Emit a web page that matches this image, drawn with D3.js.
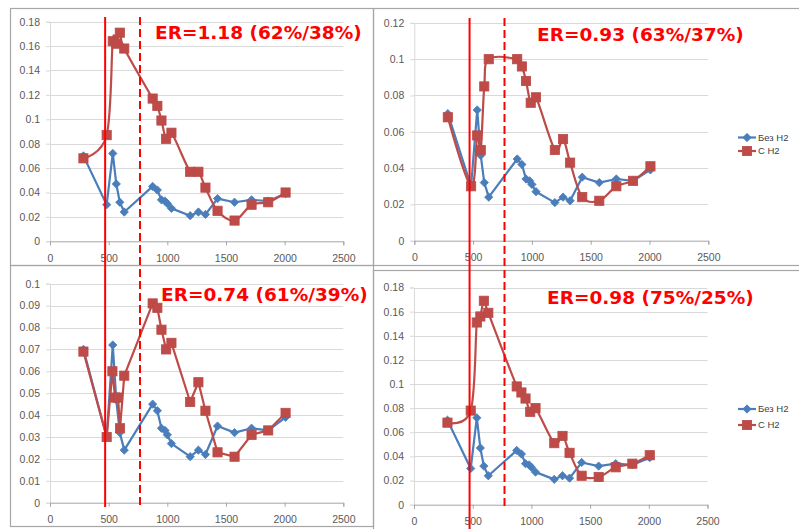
<!DOCTYPE html>
<html><head><meta charset="utf-8">
<script src="https://cdn.jsdelivr.net/npm/d3@7"></script>
<style>
body{margin:0;background:#fff;}
svg{display:block;font-family:"Liberation Sans",Arial,sans-serif;}
</style>
</head><body>
<svg id="c" width="799" height="529"></svg>
<script>
// ---------- data ----------
const xTicks = [0, 500, 1000, 1500, 2000, 2500];
const seriesNames = ["Без H2", "С H2"];
const erTitles = ["ER=1.18 (62%/38%)", "ER=0.93 (63%/37%)", "ER=0.74 (61%/39%)", "ER=0.98 (75%/25%)"];
const yMaxes = [0.18, 0.12, 0.1, 0.18];
const ySteps = [0.02, 0.02, 0.01, 0.02];

const tempBlue = [285, 483, 535, 565, 595, 633, 875, 915, 950, 980, 1000, 1035, 1195, 1265, 1325, 1428, 1573, 1718, 1860, 2008];
const bezH2    = [0.070, 0.030, 0.072, 0.047, 0.032, 0.024, 0.045, 0.042, 0.034, 0.033, 0.031, 0.027, 0.021, 0.024, 0.022, 0.035, 0.032, 0.034, 0.033, 0.039];

const tempRed  = [285, 483, 535, 565, 595, 633, 875, 915, 950, 990, 1035, 1195, 1265, 1325, 1428, 1573, 1718, 1860, 2008];
const sH2_1    = [0.068, 0.087, 0.164, 0.162, 0.171, 0.158, 0.117, 0.111, 0.099, 0.084, 0.089, 0.057, 0.057, 0.044, 0.025, 0.017, 0.030, 0.032, 0.040];
const sH2_2    = [0.068, 0.030, 0.058, 0.050, 0.085, 0.100, 0.100, 0.096, 0.088, 0.076, 0.079, 0.050, 0.056, 0.043, 0.024, 0.022, 0.030, 0.033, 0.041];
const tempRed3 = [285, 483, 532, 555, 580, 597, 633, 875, 915, 950, 990, 1035, 1195, 1265, 1325, 1428, 1573, 1718, 1860, 2008];
const sH2_3    = [0.069, 0.030, 0.060, 0.048, 0.048, 0.034, 0.058, 0.091, 0.089, 0.079, 0.070, 0.073, 0.046, 0.055, 0.042, 0.023, 0.021, 0.031, 0.033, 0.041];
const sH2_4    = [0.068, 0.078, 0.151, 0.156, 0.169, 0.159, 0.098, 0.093, 0.088, 0.077, 0.080, 0.051, 0.057, 0.043, 0.024, 0.023, 0.031, 0.034, 0.041];

const boundaryTemps = [470, 767]; // solid / dashed red markers

// ---------- layout ----------
const BLUE = "#4a7ebb", RED = "#be4b48", TXT = "#595959";
const panels = [
  {box:[10,8,363,257],  xr:[50,343.3],   yr:[241.3,21.7],  title:[155,39],  xl:9, legend:null,           smooth:true,  rx:tempRed,  ry:sH2_1},
  {box:[373,8,430,257], xr:[414.3,708.3],yr:[240.7,22.9],  title:[537,41],  xl:9, legend:[738,137.5,151], smooth:true,  rx:tempRed,  ry:sH2_2},
  {box:[10,265,363,261],xr:[50,343.3],   yr:[502.7,283.7], title:[161,301], xl:8.5, legend:null,         smooth:false, rx:tempRed3, ry:sH2_3},
  {box:[373,270,430,262],xr:[414,707.5], yr:[504.7,287.5], title:[547,304], xl:8.5, legend:[738,409,425], smooth:true,  rx:tempRed,  ry:sH2_4}
];

const svg = d3.select("#c");
const fmt = d3.format("~g");

function diamond(g, cx, cy){
  g.append("path").attr("d", d3.symbol(d3.symbolDiamond2, 44)())
   .attr("transform", `translate(${cx},${cy})`)
   .attr("fill", BLUE).attr("stroke", BLUE).attr("stroke-width", 0.8);
}
function square(g, cx, cy){
  g.append("rect").attr("x", cx-4.6).attr("y", cy-4.6).attr("width", 9.2).attr("height", 9.2)
   .attr("fill", RED).attr("stroke", "#b94a47").attr("stroke-width", 0.8);
}

panels.forEach((p, i) => {
  const g = svg.append("g");
  g.append("rect").attr("x", p.box[0]+0.5).attr("y", p.box[1]+0.5)
    .attr("width", p.box[2]).attr("height", p.box[3])
    .attr("fill", "none").attr("stroke", "#a6a6a6").attr("stroke-width", 1.2);

  const x = d3.scaleLinear().domain([0, 2500]).range(p.xr);
  const y = d3.scaleLinear().domain([0, yMaxes[i]]).range(p.yr);
  const yt = d3.range(0, yMaxes[i] + 1e-9, ySteps[i]).map(v => +v.toFixed(3));

  // gridlines
  g.selectAll(".grid").data(yt.slice(1)).join("line")
    .attr("x1", p.xr[0]).attr("x2", p.xr[1])
    .attr("y1", d => Math.round(y(d))+0.5).attr("y2", d => Math.round(y(d))+0.5)
    .attr("stroke", "#d9d9d9").attr("stroke-width", 1);

  // y axis
  const ya = g.append("g").attr("transform", `translate(${p.xr[0]},0)`)
    .call(d3.axisLeft(y).tickValues(yt).tickFormat(fmt).tickSize(4).tickPadding(6));
  ya.select(".domain").attr("stroke", "#d9d9d9");
  ya.selectAll(".tick line").attr("stroke", "#d9d9d9");
  ya.selectAll("text").attr("fill", TXT).style("font-size", "10.5px");

  // x axis
  const xa = g.append("g").attr("transform", `translate(0,${y(0)})`)
    .call(d3.axisBottom(x).tickValues(xTicks).tickFormat(d3.format("d")).tickSize(4).tickPadding(p.xl));
  xa.select(".domain").attr("stroke", "#a6a6a6");
  xa.selectAll(".tick line").attr("stroke", "#a6a6a6");
  xa.selectAll("text").attr("fill", TXT).style("font-size", "10.5px");

  // blue series (straight)
  const blue = tempBlue.map((t, k) => [t, bezH2[k]]);
  g.append("path").datum(blue)
    .attr("d", d3.line().x(d => x(d[0])).y(d => y(d[1])))
    .attr("fill", "none").attr("stroke", BLUE).attr("stroke-width", 2.2).attr("stroke-linejoin", "round");
  blue.forEach(d => diamond(g, x(d[0]), y(d[1])));

  // red series
  const red = p.rx.map((t, k) => [t, p.ry[k]]);
  g.append("path").datum(red)
    .attr("d", d3.line().curve(p.smooth ? d3.curveCardinal.tension(0) : d3.curveLinear).x(d => x(d[0])).y(d => y(d[1])))
    .attr("fill", "none").attr("stroke", RED).attr("stroke-width", 2.2).attr("stroke-linejoin", "round");
  red.forEach(d => square(g, x(d[0]), y(d[1])));

  // legend
  if (p.legend) {
    const [lx, ly1, ly2] = p.legend;
    g.append("line").attr("x1", lx).attr("x2", lx+18).attr("y1", ly1).attr("y2", ly1).attr("stroke", BLUE).attr("stroke-width", 2.2);
    diamond(g, lx+9, ly1);
    g.append("line").attr("x1", lx).attr("x2", lx+18).attr("y1", ly2).attr("y2", ly2).attr("stroke", RED).attr("stroke-width", 2.2);
    square(g, lx+9, ly2);
    g.append("text").attr("x", lx+20).attr("y", ly1).attr("dy", "0.35em").attr("fill", "#404040")
      .style("font-size", "9.5px").text(seriesNames[0]);
    g.append("text").attr("x", lx+20).attr("y", ly2).attr("dy", "0.35em").attr("fill", "#404040")
      .style("font-size", "9.5px").text(seriesNames[1]);
  }

  // ER title
  g.append("text").attr("x", p.title[0]).attr("y", p.title[1])
    .attr("fill", "#ff0000").style("font-family", "'DejaVu Sans', sans-serif")
    .style("font-weight", "bold").style("font-size", "18.5px").text(erTitles[i]);
});

// red boundary lines drawn over the composite
const xL = d3.scaleLinear().domain([0, 2500]).range(panels[0].xr);
const xR = d3.scaleLinear().domain([0, 2500]).range(panels[1].xr);
const vlines = [
  {x: xL(boundaryTemps[0]), y1: 17, y2: 507, dash: null},
  {x: xL(boundaryTemps[1]), y1: 17, y2: 507, dash: "8,4"},
  {x: xR(boundaryTemps[0]), y1: 18, y2: 529, dash: null},
  {x: xR(boundaryTemps[1]), y1: 18, y2: 506, dash: "8,4"}
];
svg.selectAll(".vl").data(vlines).join("line")
  .attr("x1", d => d.x).attr("x2", d => d.x).attr("y1", d => d.y1).attr("y2", d => d.y2)
  .attr("stroke", "#ff0000").attr("stroke-width", 2)
  .attr("stroke-dasharray", d => d.dash);
</script>
</body></html>
